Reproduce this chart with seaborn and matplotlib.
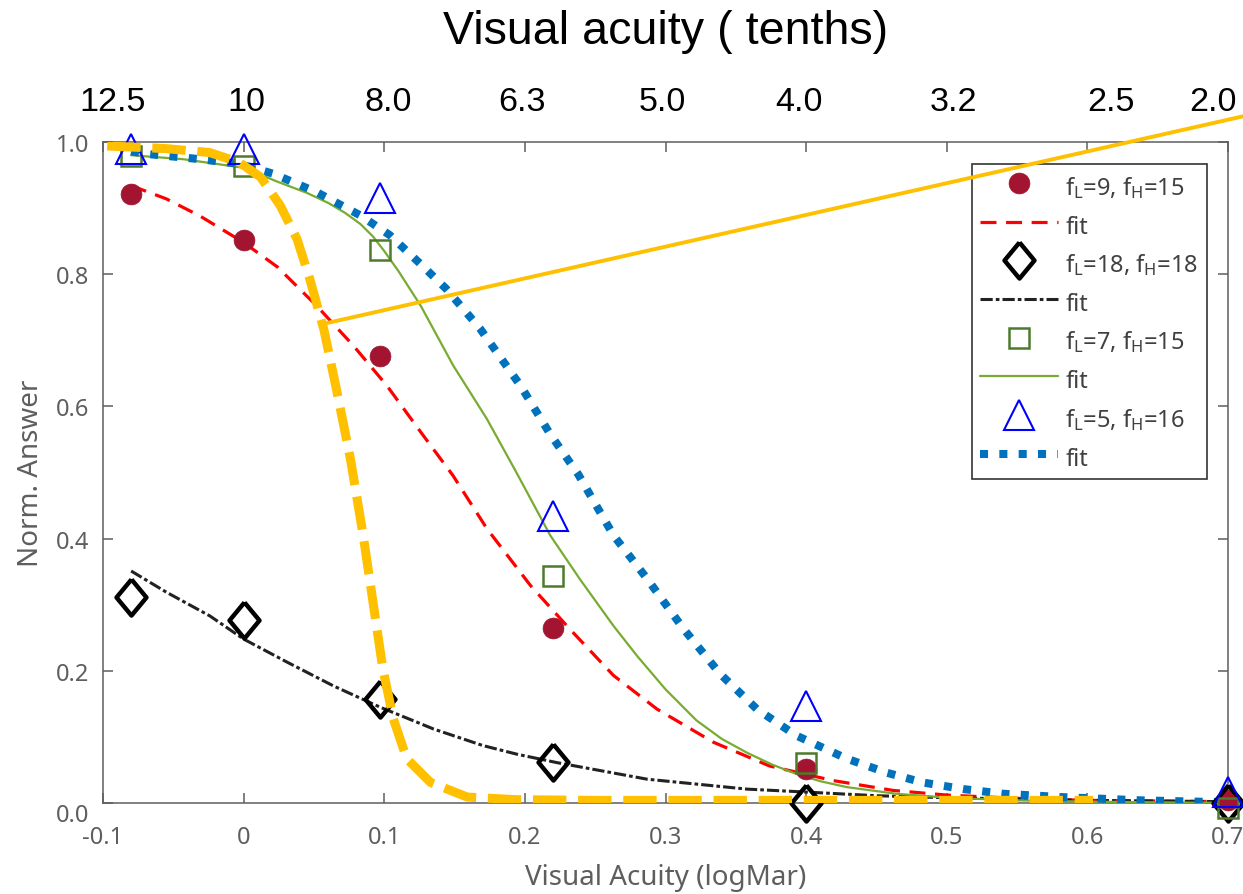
import matplotlib
matplotlib.use("Agg")
import matplotlib.pyplot as plt
from matplotlib import font_manager
import seaborn as sns

# Measured points (logMAR on x, normalised answer on y)
X_DATA = [-0.08, 0.0, 0.097, 0.22, 0.40, 0.70]
Y_FL9 = [0.921, 0.851, 0.676, 0.265, 0.051, 0.004]
Y_FL18 = [0.312, 0.277, 0.157, 0.062, 0.0, 0.0]
Y_FL7 = [0.979, 0.964, 0.837, 0.343, 0.060, -0.008]
Y_FL5 = [0.989, 0.989, 0.915, 0.434, 0.146, 0.016]

# Fitted curves
FIT9_X = [-0.08, -0.055, -0.031, 0.0, 0.024, 0.052, 0.078, 0.102, 0.126, 0.149, 0.173,
          0.204, 0.232, 0.263, 0.294, 0.334, 0.374, 0.419, 0.462, 0.5, 0.55, 0.6, 0.7]
FIT9_Y = [0.934, 0.914, 0.888, 0.848, 0.811, 0.752, 0.692, 0.631, 0.561, 0.495, 0.415,
          0.329, 0.263, 0.193, 0.142, 0.092, 0.056, 0.034, 0.019, 0.012, 0.007, 0.004, 0.002]

FIT18_X = [-0.08, -0.055, -0.024, 0.0, 0.031, 0.064, 0.097, 0.135, 0.17, 0.194, 0.223,
           0.287, 0.358, 0.405, 0.45, 0.5, 0.6, 0.7]
FIT18_Y = [0.351, 0.319, 0.283, 0.248, 0.213, 0.177, 0.145, 0.112, 0.087, 0.074, 0.061,
           0.036, 0.021, 0.016, 0.011, 0.008, 0.004, 0.002]

FIT7_X = [-0.08, -0.043, 0.0, 0.024, 0.045, 0.06, 0.072, 0.083, 0.092, 0.1, 0.11, 0.126,
          0.149, 0.173, 0.194, 0.218, 0.239, 0.263, 0.28, 0.3, 0.322, 0.34, 0.358, 0.376,
          0.393, 0.41, 0.429, 0.464, 0.5, 0.55, 0.6, 0.7]
FIT7_Y = [0.980, 0.974, 0.961, 0.940, 0.923, 0.908, 0.893, 0.876, 0.857, 0.835, 0.805, 0.752,
          0.662, 0.581, 0.500, 0.405, 0.339, 0.268, 0.222, 0.172, 0.125, 0.097, 0.076, 0.058,
          0.044, 0.033, 0.024, 0.014, 0.008, 0.004, 0.002, 0.0]

FIT5_X = [-0.08, -0.069, -0.031, -0.003, 0.021, 0.052, 0.083, 0.104, 0.126, 0.144, 0.168,
          0.197, 0.218, 0.238, 0.263, 0.287, 0.313, 0.339, 0.365, 0.393, 0.429, 0.457,
          0.483, 0.512, 0.54, 0.581, 0.638, 0.7]
FIT5_Y = [0.986, 0.982, 0.974, 0.967, 0.952, 0.924, 0.889, 0.859, 0.815, 0.778, 0.718,
          0.631, 0.558, 0.497, 0.405, 0.339, 0.263, 0.195, 0.142, 0.102, 0.067, 0.046,
          0.031, 0.021, 0.014, 0.009, 0.004, 0.001]

# Hand-drawn yellow overlay (thick dashed sigmoid + pointer line)
YEL_X = [-0.097, -0.055, -0.024, -0.003, 0.012, 0.026, 0.038, 0.047, 0.057, 0.066, 0.076,
         0.085, 0.092, 0.099, 0.1065, 0.116, 0.133, 0.159, 0.194, 0.25, 0.604]
YEL_Y = [0.994, 0.990, 0.984, 0.969, 0.947, 0.904, 0.853, 0.793, 0.717, 0.626, 0.520,
         0.405, 0.304, 0.203, 0.127, 0.067, 0.031, 0.009, 0.005, 0.004, 0.004]
POINTER_X = [0.057, 0.711]
POINTER_Y = [0.725, 1.039]

LABELS = ["f$_{\\mathrm{L}}$=9, f$_{\\mathrm{H}}$=15",
          "f$_{\\mathrm{L}}$=18, f$_{\\mathrm{H}}$=18",
          "f$_{\\mathrm{L}}$=7, f$_{\\mathrm{H}}$=15",
          "f$_{\\mathrm{L}}$=5, f$_{\\mathrm{H}}$=16"]

X_TICKS = [-0.1, 0.0, 0.1, 0.2, 0.3, 0.4, 0.5, 0.6, 0.7]
X_TICK_LABELS = ["-0.1", "0", "0.1", "0.2", "0.3", "0.4", "0.5", "0.6", "0.7"]
Y_TICKS = [0.0, 0.2, 0.4, 0.6, 0.8, 1.0]
Y_TICK_LABELS = ["0.0", "0.2", "0.4", "0.6", "0.8", "1.0"]

TOP_X = [-0.093, 0.002, 0.1025, 0.198, 0.298, 0.395, 0.505, 0.617, 0.689]
TOP_LABELS = ["12.5", "10", "8.0", "6.3", "5.0", "4.0", "3.2", "2.5", "2.0"]

GRAY = "#5e5e5e"

sns.set_style("ticks")
plt.rcParams["font.family"] = ["Noto Sans", "DejaVu Sans"]
plt.rcParams["mathtext.fontset"] = "custom"
plt.rcParams["mathtext.rm"] = "Noto Sans"
plt.rcParams["mathtext.it"] = "Noto Sans:italic"

names = {f.name for f in font_manager.fontManager.ttflist}
if "Liberation Sans Narrow" in names:
    NARROW, SCALE = "Liberation Sans Narrow", 1.0
else:
    NARROW, SCALE = "Liberation Sans", 0.82

fig = plt.figure(figsize=(12.43, 8.95), dpi=100)
ax = fig.add_axes([103 / 1243, 91 / 895, 1125 / 1243, 661 / 895])

handles = []


def add_line(x, y, **kws):
    sns.lineplot(x=x, y=y, ax=ax, estimator=None, sort=False, **kws)
    handles.append(ax.lines[-1])


diamond = [(0, 1), (0.83, 0), (0, -1), (-0.83, 0), (0, 1)]

add_line(X_DATA, Y_FL9, color="#A2142F", linestyle="none", marker="o", markersize=15,
         markeredgecolor="#A2142F", markeredgewidth=0.5, clip_on=False, zorder=4)
add_line(FIT9_X, FIT9_Y, color="#FF0000", linewidth=2.3, linestyle=(0, (5, 3)), zorder=3)
add_line(X_DATA, Y_FL18, color="black", linestyle="none", marker=diamond, markersize=26,
         markerfacecolor="none", markeredgecolor="black", markeredgewidth=3.2,
         clip_on=False, zorder=4)
add_line(FIT18_X, FIT18_Y, color="#222222", linewidth=2.2, linestyle=(0, (4, 1, 1.2, 1)), zorder=3)
add_line(X_DATA, Y_FL7, color="#4E7A2B", linestyle="none", marker="s", markersize=15,
         markerfacecolor="none", markeredgecolor="#4E7A2B", markeredgewidth=1.8,
         clip_on=False, zorder=4)
add_line(FIT7_X, FIT7_Y, color="#77AC30", linewidth=1.6, linestyle="-", zorder=3)
add_line(X_DATA, Y_FL5, color="#0000FF", linestyle="none", marker="^", markersize=21,
         markerfacecolor="none", markeredgecolor="#0000FF", markeredgewidth=1.5,
         clip_on=False, zorder=4)
add_line(FIT5_X, FIT5_Y, color="#0072BD", linewidth=5.8, linestyle=(0, (1, 1.4)),
         dash_capstyle="butt", zorder=3)

# yellow overlay drawn on top
sns.lineplot(x=YEL_X, y=YEL_Y, ax=ax, estimator=None, sort=False, color="#FFC000",
             linewidth=6.5, linestyle=(0, (3.7, 1.3)), zorder=6)
sns.lineplot(x=POINTER_X, y=POINTER_Y, ax=ax, estimator=None, sort=False, color="#FFC000",
             linewidth=2.8, clip_on=False, zorder=6)

ax.set_xlim(-0.1, 0.7)
ax.set_ylim(0, 1)
ax.set_xticks(X_TICKS, labels=X_TICK_LABELS)
ax.set_yticks(Y_TICKS, labels=Y_TICK_LABELS)
ax.tick_params(direction="in", length=7.5, width=1.1, color=GRAY, labelcolor=GRAY,
               labelsize=17, top=True, right=True)
ax.tick_params(axis="x", pad=16)
ax.tick_params(axis="y", pad=10)
ax.get_yticklabels()[0].set_verticalalignment("top")
for sp in ax.spines.values():
    sp.set_color(GRAY)
    sp.set_linewidth(1.1)

ax.set_xlabel("Visual Acuity (logMar)", fontsize=20, color=GRAY, labelpad=10)
ax.set_ylabel("Norm. Answer", fontsize=20, color=GRAY, labelpad=8)

labels = [LABELS[0], "fit", LABELS[1], "fit", LABELS[2], "fit", LABELS[3], "fit"]
leg = ax.legend(handles, labels, loc="upper right", bbox_to_anchor=(0.981, 0.967),
                borderaxespad=0, fontsize=17, handlelength=3.3, handletextpad=0.3,
                handleheight=1.45, labelspacing=0.45, borderpad=0.35, numpoints=1,
                frameon=True, fancybox=False, framealpha=1, labelcolor="#404040")
leg.get_frame().set_edgecolor("#333333")
leg.get_frame().set_linewidth(1.2)

# top axis: visual acuity in tenths
sec = ax.secondary_xaxis("top")
sec.set_xticks(TOP_X, labels=TOP_LABELS)
sec.tick_params(length=0, pad=18, labelsize=30 * SCALE, labelcolor="black")
for lab in sec.get_xticklabels():
    lab.set_family(NARROW)
sec.spines["top"].set_visible(False)
sec.set_xlabel("Visual acuity ( tenths)", fontsize=41 * SCALE, family=NARROW,
               color="black", labelpad=31)

fig.savefig("out.png", dpi=100)
